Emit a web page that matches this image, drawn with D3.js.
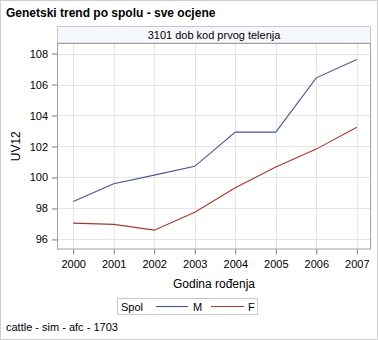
<!DOCTYPE html>
<html>
<head>
<meta charset="utf-8">
<script src="https://cdn.jsdelivr.net/npm/d3@7"></script>
<style>
  html, body { margin: 0; padding: 0; background: #fff; }
  svg { display: block; font-family: "Liberation Sans", Arial, sans-serif; }
</style>
</head>
<body>
<svg id="chart" width="378" height="340"></svg>
<script>
// Genetic trend by sex, all estimates
const years = [2000, 2001, 2002, 2003, 2004, 2005, 2006, 2007];
const maleValues = [98.45, 99.6, 100.15, 100.72, 102.93, 102.93, 106.43, 107.62];
const femaleValues = [97.05, 96.97, 96.6, 97.75, 99.33, 100.67, 101.83, 103.24];
const yTicks = [96, 98, 100, 102, 104, 106, 108];
const seriesNames = ["M", "F"];
const seriesColors = ["#445694", "#a23a2e"];

const svg = d3.select("#chart");
const W = 378, H = 340;
const plot = { left: 57, right: 371, top: 43, bottom: 249.5 };

// outer frame
svg.append("rect").attr("x", 0.5).attr("y", 0.5).attr("width", W - 1).attr("height", H - 1)
  .attr("fill", "#fff").attr("stroke", "#cfcfcf");

// title
svg.append("text").attr("x", 6).attr("y", 17)
  .attr("font-size", 12).attr("font-weight", "bold").attr("fill", "#000")
  .text("Genetski trend po spolu - sve ocjene");

// panel header
svg.append("rect").attr("x", plot.left + 0.5).attr("y", 26.5)
  .attr("width", plot.right - plot.left - 1).attr("height", 16.5)
  .attr("fill", "#f7f8fe").attr("stroke", "#c8c8c8");
svg.append("text").attr("x", (plot.left + plot.right) / 2).attr("y", 39)
  .attr("text-anchor", "middle").attr("font-size", 11).attr("fill", "#000")
  .text("3101 dob kod prvog telenja");

const x = d3.scaleLinear().domain([1999.6, 2007.35]).range([plot.left, plot.right]);
const y = d3.scaleLinear().domain([95.35, 108.68]).range([plot.bottom, plot.top]);

// grid lines
const grid = svg.append("g").attr("stroke", "#e6e6e6").attr("stroke-width", 1);
grid.selectAll(".gx").data(years).join("line")
  .attr("x1", d => Math.round(x(d)) + 0.5).attr("x2", d => Math.round(x(d)) + 0.5)
  .attr("y1", plot.top).attr("y2", plot.bottom);
grid.selectAll(".gy").data(yTicks).join("line")
  .attr("y1", d => Math.round(y(d)) + 0.5).attr("y2", d => Math.round(y(d)) + 0.5)
  .attr("x1", plot.left).attr("x2", plot.right);

// axes
const xAxis = d3.axisBottom(x).tickValues(years).tickFormat(d3.format("d")).tickSize(5).tickPadding(6).tickSizeOuter(0);
const yAxis = d3.axisLeft(y).tickValues(yTicks).tickFormat(d3.format("d")).tickSize(5).tickPadding(4).tickSizeOuter(0);

const gx = svg.append("g").attr("transform", `translate(0,${plot.bottom})`).call(xAxis);
const gy = svg.append("g").attr("transform", `translate(${plot.left},0)`).call(yAxis);
[gx, gy].forEach(g => {
  g.select(".domain").remove();
  g.selectAll(".tick line").attr("stroke", "#7a7a7a");
  g.selectAll(".tick text").attr("font-size", 11).attr("fill", "#000")
    .attr("font-family", "Liberation Sans, Arial, sans-serif");
});

// plot border
svg.append("rect").attr("x", plot.left + 0.5).attr("y", plot.top + 0.5)
  .attr("width", plot.right - plot.left - 1).attr("height", plot.bottom - plot.top - 1)
  .attr("fill", "none").attr("stroke", "#a0a0a0");

// axis titles
svg.append("text").attr("transform", `translate(19.5,${(plot.top + plot.bottom) / 2}) rotate(-90)`)
  .attr("text-anchor", "middle").attr("font-size", 12).attr("fill", "#000").text("UV12");
svg.append("text").attr("x", (plot.left + plot.right) / 2).attr("y", 288)
  .attr("text-anchor", "middle").attr("font-size", 12).attr("fill", "#000").text("Godina rođenja");

// series lines
const line = d3.line().x(d => x(d[0])).y(d => y(d[1]));
[maleValues, femaleValues].forEach((vals, i) => {
  svg.append("path")
    .datum(years.map((yr, j) => [yr, vals[j]]))
    .attr("d", line).attr("fill", "none")
    .attr("stroke", seriesColors[i]).attr("stroke-width", 1.1);
});

// legend
const lg = svg.append("g");
lg.append("rect").attr("x", 117.5).attr("y", 298.5).attr("width", 140).attr("height", 16)
  .attr("fill", "#fff").attr("stroke", "#c8c8c8");
lg.append("text").attr("x", 121).attr("y", 310.5).attr("font-size", 11).text("Spol");
const items = [{ x0: 156, x1: 188, tx: 193 }, { x0: 211, x1: 244, tx: 248 }];
items.forEach((it, i) => {
  lg.append("line").attr("x1", it.x0).attr("x2", it.x1).attr("y1", 306.5).attr("y2", 306.5)
    .attr("stroke", seriesColors[i]).attr("stroke-width", 1.1);
  lg.append("text").attr("x", it.tx).attr("y", 310.5).attr("font-size", 11).text(seriesNames[i]);
});

// footnote
svg.append("text").attr("x", 6).attr("y", 331).attr("font-size", 11).attr("fill", "#000")
  .text("cattle - sim - afc - 1703");
</script>
</body>
</html>
